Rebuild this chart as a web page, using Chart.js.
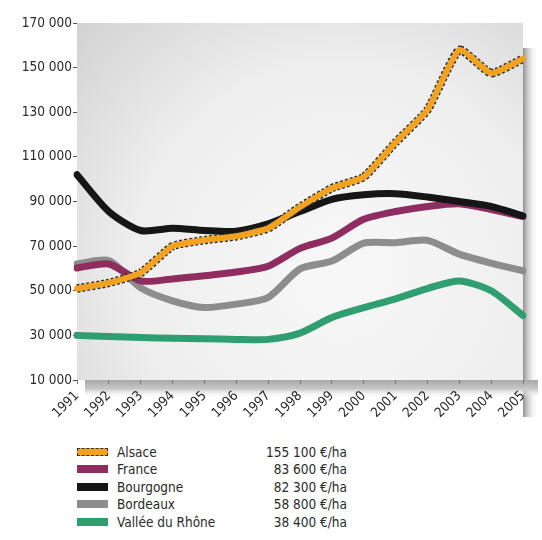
<!DOCTYPE html>
<html lang="fr">
<head>
<meta charset="utf-8">
<title>Prix des terres à vignes</title>
<script src="https://cdn.jsdelivr.net/npm/chart.js@4/dist/chart.umd.min.js"></script>
<style>
    body { margin: 0; background: #fff; font-family: "DejaVu Sans Condensed", "Liberation Sans Narrow", Arial, sans-serif; font-stretch: condensed; }
    #wrap { position: relative; width: 542px; height: 540px; }
    #chartBox { position: absolute; left: 0; top: 0; width: 542px; height: 435px; }
    #legend { position: absolute; left: 77px; top: 443px; font-size: 13.5px; color: #2a2a2a; }
    .row { display: flex; align-items: center; height: 17.5px; }
    .swatch { width: 31px; height: 8px; margin-right: 9px; box-sizing: border-box; }
    .name { width: 120px; }
    .val { width: 110px; text-align: right; }
</style>
</head>
<body>
<div id="wrap">
    <div id="chartBox"><canvas id="landChart"></canvas></div>
    <div id="legend"></div>
</div>
<script>
// Données (€/ha)
const years = ['1991', '1992', '1993', '1994', '1995', '1996', '1997', '1998', '1999', '2000', '2001', '2002', '2003', '2004', '2005'];
const alsace = [51000, 53500, 58000, 70000, 72700, 74400, 78000, 87500, 96000, 101000, 116500, 131000, 158000, 147500, 154000];
const france = [60200, 62000, 54400, 55300, 56700, 58400, 61000, 69000, 73600, 82000, 85500, 87800, 89000, 86400, 83300];
const bourgogne = [102000, 85500, 77000, 78000, 77000, 76700, 80000, 85500, 91000, 93000, 93500, 92000, 90000, 87800, 83500];
const bordeaux = [62000, 63500, 51300, 45500, 42500, 44000, 47000, 59800, 63300, 71300, 71500, 72600, 66400, 62400, 58900];
const rhone = [30000, 29500, 29000, 28700, 28500, 28200, 28200, 31000, 38000, 42400, 46400, 51000, 54400, 50000, 38900];

const yTicks = [10000, 30000, 50000, 70000, 90000, 110000, 130000, 150000, 170000];

const legendNames = ['Alsace', 'France', 'Bourgogne', 'Bordeaux', 'Vallée du Rhône'];
const legendValues = ['155 100 €/ha', '83 600 €/ha', '82 300 €/ha', '58 800 €/ha', '38 400 €/ha'];
const legendColors = ['#f3a21f', '#8f2d60', '#161616', '#8d8d8d', '#2f9e70'];

const tickFont = '"DejaVu Sans Condensed", "Liberation Sans Narrow", Arial, sans-serif';

// Formatage "170 000"
function formatNumber(v) {
    return String(v).replace(/\B(?=(\d{3})+(?!\d))/g, ' ');
}

// Fond grisé et ombre portée de la zone du graphique
const paperBackground = {
    id: 'paperBackground',
    beforeDraw(chart) {
        const { ctx, chartArea: a } = chart;
        ctx.save();
        // ombre à droite
        const sh = ctx.createLinearGradient(a.right, 0, a.right + 15, 0);
        sh.addColorStop(0, '#909090');
        sh.addColorStop(1, 'rgba(255,255,255,0)');
        ctx.fillStyle = sh;
        ctx.fillRect(a.right, a.top + 25, 15, a.bottom - a.top + 12);
        // ombre en bas
        const sb = ctx.createLinearGradient(0, a.bottom, 0, a.bottom + 18);
        sb.addColorStop(0, '#a8a8a8');
        sb.addColorStop(0.5, '#c8c8c8');
        sb.addColorStop(1, 'rgba(255,255,255,0)');
        ctx.fillStyle = sb;
        ctx.fillRect(a.left + 8, a.bottom, a.right - a.left + 7, 18);
        // fond
        const g = ctx.createRadialGradient(340, 270, 20, 340, 270, 360);
        g.addColorStop(0, '#f7f7f7');
        g.addColorStop(0.55, '#eeeeee');
        g.addColorStop(1, '#d2d2d2');
        ctx.fillStyle = g;
        ctx.fillRect(a.left, a.top, a.right - a.left, a.bottom - a.top);
        ctx.restore();
    }
};

function makeLine(label, data, color, width, order) {
    return {
        label: label,
        data: data,
        borderColor: color,
        borderWidth: width,
        pointRadius: 0,
        tension: 0.25,
        fill: false,
        order: order,
        borderCapStyle: 'round',
        borderJoinStyle: 'round'
    };
}

function createChart() {
    const ctx = document.getElementById('landChart');
    const alsaceLine = makeLine('Alsace', alsace, legendColors[0], 6, 1);
    alsaceLine.tension = 0.15;
    const alsaceEdge = makeLine('Alsace bord', alsace, '#2a2a2a', 8.5, 2);
    alsaceEdge.tension = 0.15;
    alsaceEdge.borderDash = [3, 2];
    alsaceEdge.borderCapStyle = 'butt';

    new Chart(ctx, {
        type: 'line',
        data: {
            labels: years,
            datasets: [
                alsaceLine,
                alsaceEdge,
                makeLine('Bourgogne', bourgogne, legendColors[2], 7, 3),
                makeLine('France', france, legendColors[1], 7, 4),
                makeLine('Bordeaux', bordeaux, legendColors[3], 7, 5),
                makeLine('Vallée du Rhône', rhone, legendColors[4], 7, 6)
            ]
        },
        options: {
            responsive: true,
            maintainAspectRatio: false,
            animation: false,
            layout: { padding: { top: 23, right: 19, left: 0, bottom: 0 } },
            plugins: {
                legend: { display: false },
                tooltip: { enabled: false }
            },
            scales: {
                x: {
                    offset: false,
                    border: { display: false },
                    grid: { display: true, drawOnChartArea: false, tickLength: 4, color: '#777' },
                    ticks: {
                        color: '#2a2a2a',
                        maxRotation: 45,
                        minRotation: 45,
                        padding: 4,
                        font: { family: tickFont, size: 13.5 }
                    },
                    afterFit(scale) { scale.height = 55; }
                },
                y: {
                    min: 10000,
                    max: 170000,
                    border: { display: false },
                    grid: { display: true, drawOnChartArea: false, tickLength: 4, color: '#555' },
                    afterBuildTicks(scale) {
                        scale.ticks = yTicks.map(v => ({ value: v }));
                    },
                    ticks: {
                        color: '#2a2a2a',
                        padding: 1,
                        callback: v => formatNumber(v),
                        font: { family: tickFont, size: 13.5 }
                    },
                    afterFit(scale) { scale.width = 77; }
                }
            }
        },
        plugins: [paperBackground]
    });
}

// Légende HTML avec les valeurs 2005
function buildLegend() {
    const box = document.getElementById('legend');
    legendNames.forEach((name, i) => {
        const row = document.createElement('div');
        row.className = 'row';
        const sw = document.createElement('div');
        sw.className = 'swatch';
        sw.style.background = legendColors[i];
        if (i === 0) sw.style.border = '1.5px dashed #333';
        const n = document.createElement('div');
        n.className = 'name';
        n.textContent = name;
        const v = document.createElement('div');
        v.className = 'val';
        v.textContent = legendValues[i];
        row.append(sw, n, v);
        box.appendChild(row);
    });
}

document.addEventListener('DOMContentLoaded', () => {
    buildLegend();
    createChart();
});
</script>
</body>
</html>
